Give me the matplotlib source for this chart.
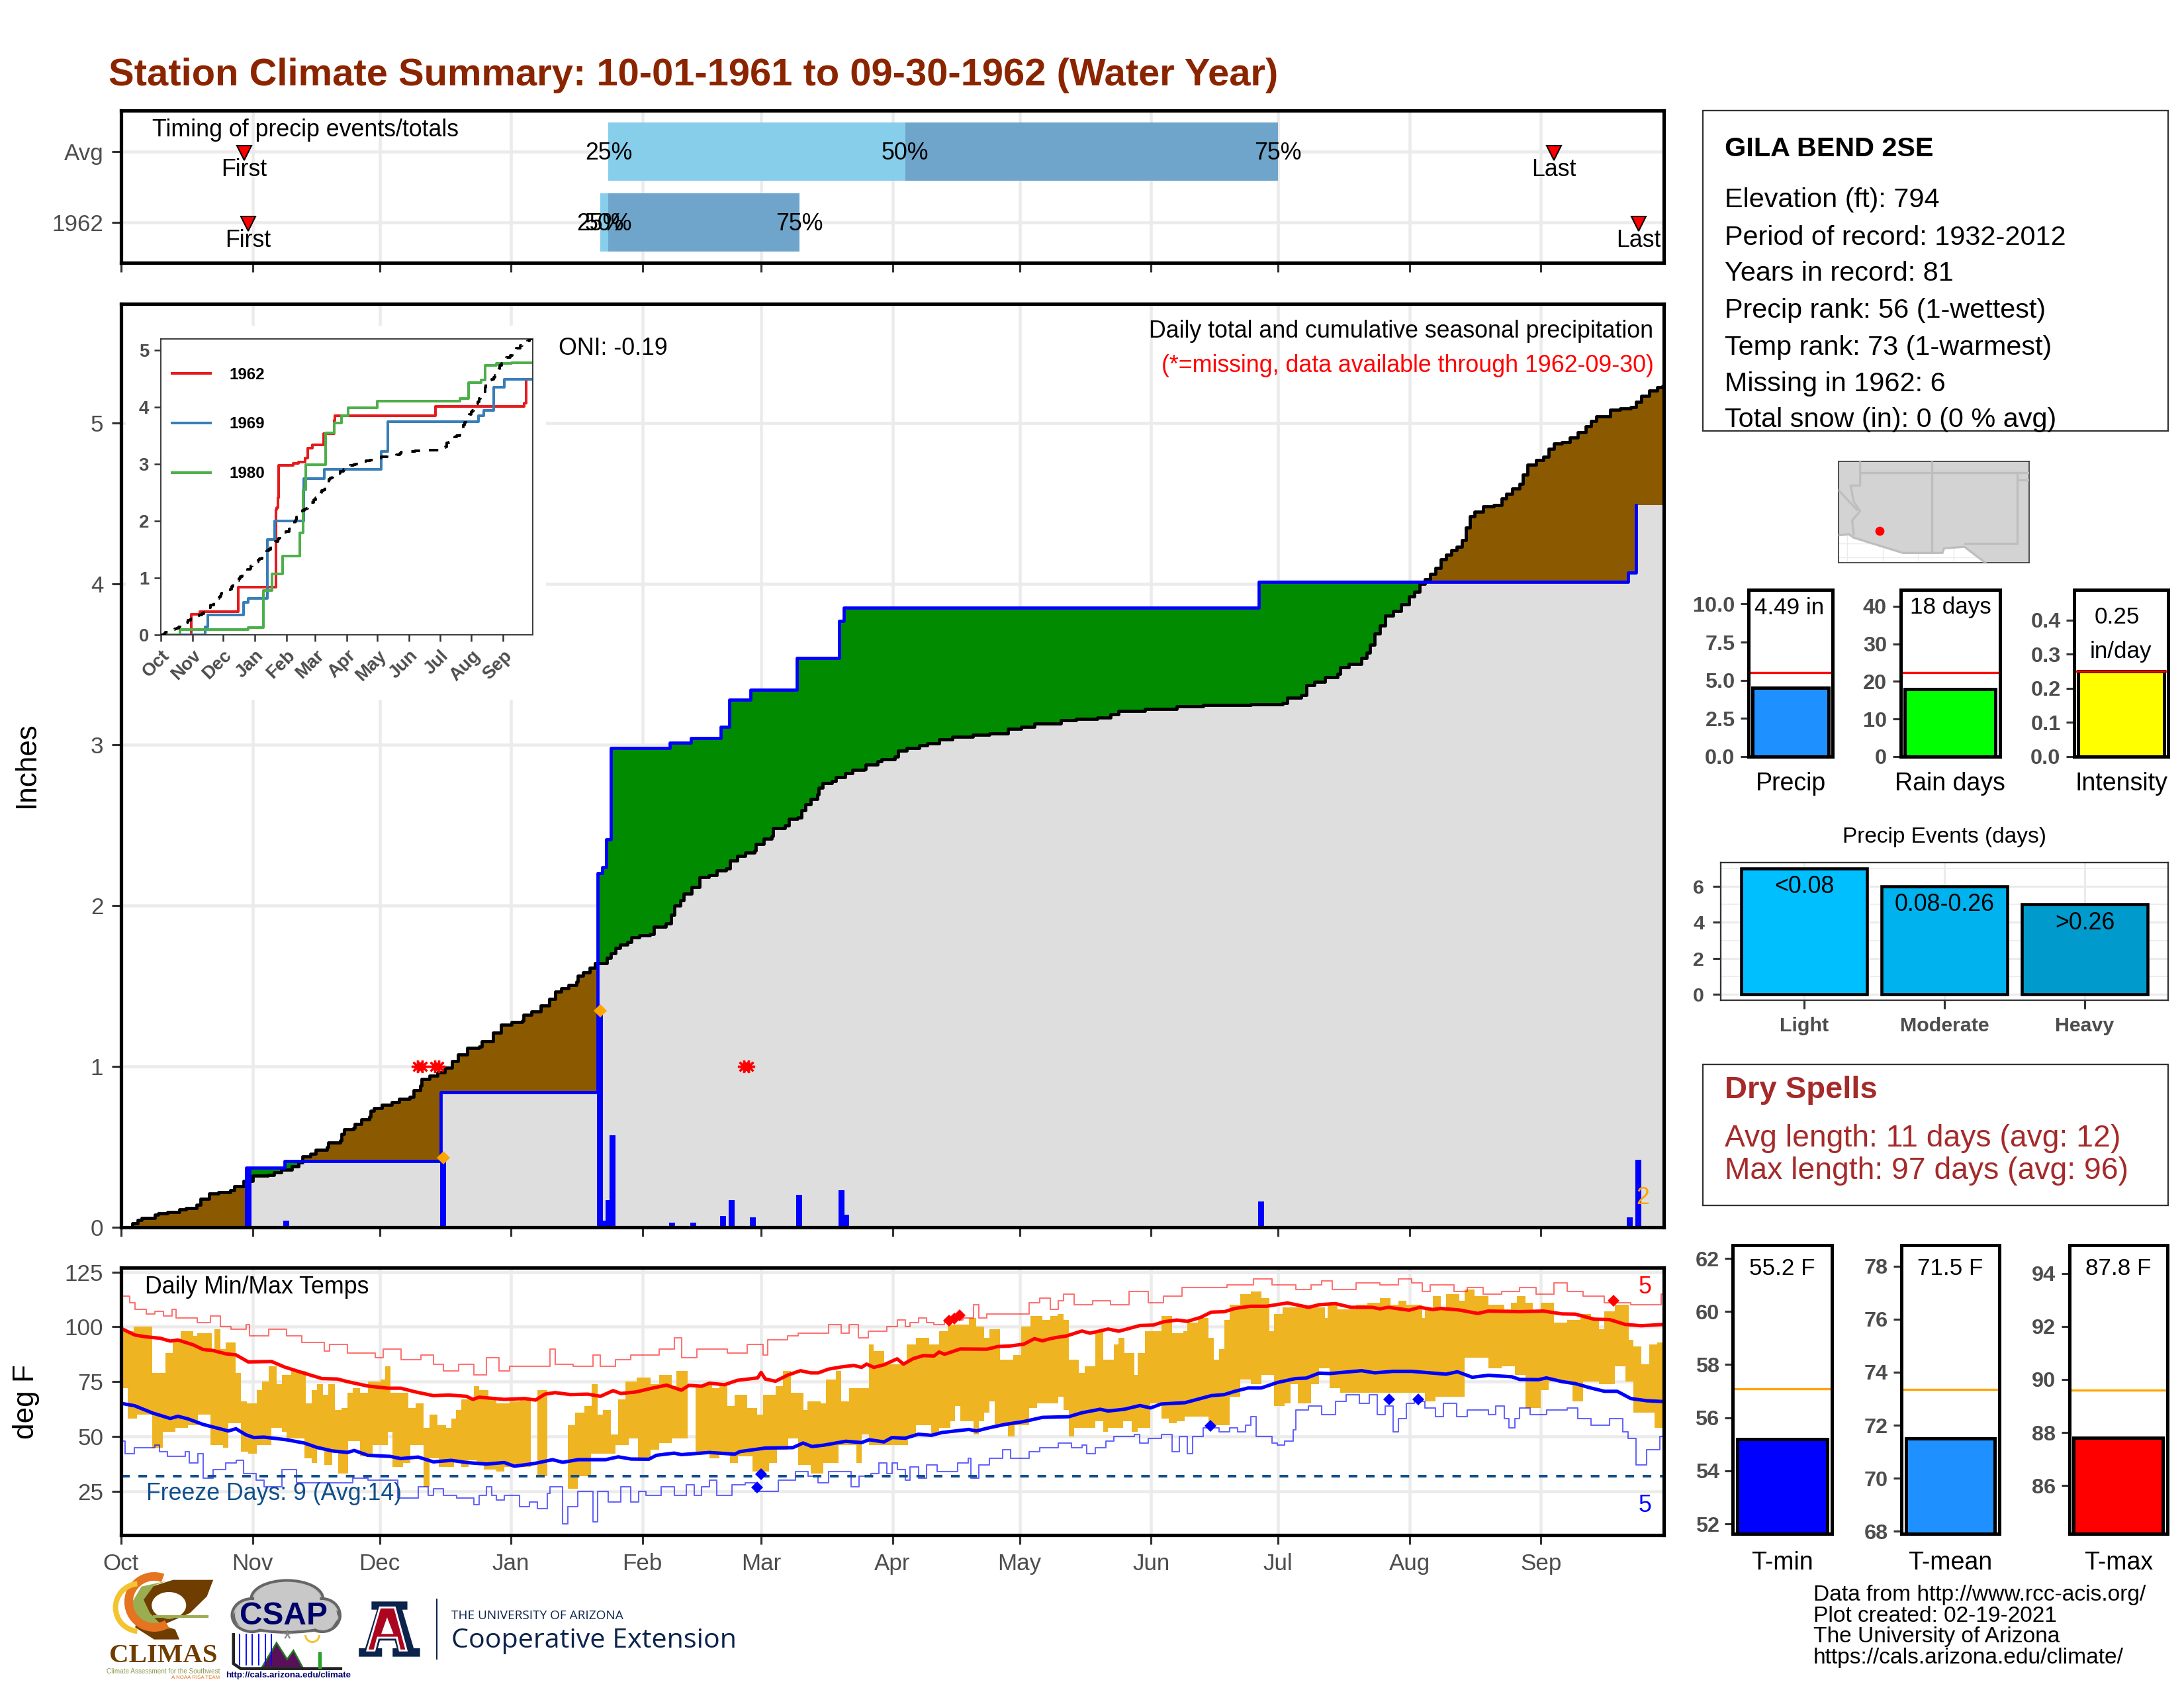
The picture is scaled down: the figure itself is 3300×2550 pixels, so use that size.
import numpy as np
import matplotlib
matplotlib.use('Agg')
import matplotlib.pyplot as plt
import matplotlib.patches as mp

plt.rcParams['font.family'] = 'Liberation Sans'

W, H = 3300.0, 2550.0
GRID = '#EBEBEB'
TICKC = '#4D4D4D'
NAVY = '#0C234B'

month_days = [0, 31, 61, 92, 123, 151, 182, 212, 243, 273, 304, 335]
month_labels = ['Oct', 'Nov', 'Dec', 'Jan', 'Feb', 'Mar', 'Apr', 'May', 'Jun', 'Jul', 'Aug', 'Sep']

# timing panel
avg_quart = [115, 185, 273]
yr_quart = [113, 115, 160]
first_days = [29, 30]
last_days = [338, 358]

# average cumulative precip, read as steps
avg_days = [0, 2.6, 3.9, 4.8, 7.9, 8.8, 11, 13.7, 15.3, 17.8, 18.7, 20.8, 23, 25.8, 26.7, 28.9, 31, 34.7, 36, 37.8,
            40.3, 41.8, 42.8, 44.6, 45.9, 48.6, 48.9, 51.7, 52, 52.6, 54.8, 55.1, 56.7, 58.5, 58.8, 59.7, 61.6, 63.8,
            65.6, 68.1, 69, 70.6, 70.9, 72.7, 74.6, 76.4, 78, 79.5, 81.7, 84.5, 85.1, 87.7, 87.8, 89.6, 89.7, 92.2,
            94.6, 95, 96.8, 99, 101, 102.5, 103.8, 105.6, 107.5, 107.8, 109, 110.6, 111.8, 114.6, 115.5, 116.7, 117.7,
            119.5, 120.4, 122.3, 124.8, 125.7, 128.5, 129.7, 130.6, 131.9, 132.8, 134.6, 136.5, 138.6, 140.5, 142.7,
            143.6, 145.4, 147.3, 149.5, 149.8, 151.6, 153.5, 153.8, 156.6, 157.5, 159.6, 160.6, 161.5, 162.7, 164.3,
            164.6, 165.5, 167.7, 168.6, 170.8, 172.6, 175.4, 175.7, 178.5, 179.4, 182.5, 183.4, 185.3, 188.4, 190.2,
            193, 196.2, 201, 204.9, 209.3, 212.4, 215.5, 221.7, 225.4, 230.4, 233.5, 235.4, 241.6, 249, 255.3, 266.5,
            274, 275.2, 278.4, 279.6, 281.5, 284, 287, 287.7, 289.6, 292.7, 293.9, 294.6, 295.8, 297, 298.3, 300.2,
            302, 303.9, 305.1, 306.4, 307.6, 308.9, 310.1, 311.4, 312.6, 313.8, 315.1, 316.3, 317.3, 318.2, 319.4,
            321.3, 323.8, 325.7, 326.9, 328.2, 330, 330.7, 331.9, 333.8, 335.6, 336.9, 338.1, 340, 341.9, 343.7, 345.6,
            346.8, 348.1, 351.4, 353.7, 356.2, 357.4, 358.7, 360.5, 362.4, 363.7]
avg_vals = [0, .023, .044, .057, .078, .088, .096, .11, .119, .14, .178, .208, .219, .229, .256, .29, .321, .325, .343, .359,
            .38, .403, .441, .455, .483, .496, .527, .538, .579, .609, .616, .64, .672, .688, .723, .741, .76, .778,
            .798, .812, .853, .88, .922, .942, .963, .99, 1.034, 1.073, 1.114, 1.125, 1.158, 1.171, 1.21, 1.226, 1.258, 1.274,
            1.285, 1.32, 1.34, 1.38, 1.42, 1.463, 1.486, 1.508, 1.525, 1.563, 1.586, 1.614, 1.641, 1.675, 1.703, 1.737, 1.758,
            1.772, 1.802, 1.813, 1.824, 1.868, 1.888, 1.943, 1.998, 2.032, 2.073, 2.115, 2.176, 2.19, 2.217, 2.231,
            2.279, 2.307, 2.327, 2.341, 2.382, 2.416, 2.43, 2.482, 2.499, 2.537, 2.547, 2.592, 2.629, 2.663, 2.691,
            2.732, 2.759, 2.773, 2.8, 2.821, 2.842, 2.849, 2.876, 2.897, 2.91, 2.924, 2.962, 2.979, 2.995, 3.009,
            3.034, 3.05, 3.06, 3.07, 3.10, 3.11, 3.13, 3.15, 3.16, 3.17, 3.19, 3.21, 3.22, 3.24, 3.245, 3.25,
            3.26, 3.29, 3.31, 3.37, 3.39, 3.42, 3.44, 3.48, 3.50, 3.54, 3.57, 3.62, 3.69, 3.74, 3.80, 3.83,
            3.87, 3.92, 3.95, 4.0, 4.03, 4.06, 4.10, 4.15, 4.18, 4.21, 4.23, 4.27, 4.35, 4.42, 4.45,
            4.48, 4.49, 4.53, 4.56, 4.59, 4.62, 4.68, 4.74, 4.77, 4.79, 4.84, 4.87, 4.88, 4.91, 4.94, 4.98,
            5.01, 5.04, 5.08, 5.09, 5.10, 5.13, 5.17, 5.20, 5.22, 5.23]

# daily precip 1962
rain_days = [30, 39, 76, 113, 114, 115, 116, 130, 135, 142, 144, 149, 160, 170, 171, 269, 356, 358]
rain_in = [.37, .04, .43, 1.36, .04, .17, .57, .03, .03, .07, .17, .06, .20, .23, .08, .16, .06, .42]

top_rain_days = [76, 113]
top_rain_vals = [.43, 1.345]
missing_days = [70, 71, 74, 75, 147, 148]

# inset comparison years
y1969_days = [0, 43.6, 46, 80.8, 85.7, 104.6, 111.5, 140.2, 160, 216, 222, 311, 316, 326, 336]
y1969_vals = [0, .15, .36, .58, .65, 1.68, 2.01, 2.75, 2.91, 3.23, 3.75, 3.85, 3.95, 4.35, 4.49]
y1980_days = [0, 18.8, 85.7, 100.6, 109, 119, 136, 139, 141.7, 161.5, 170, 177, 183, 212, 293, 301, 313.7, 317.6, 328.5, 343]
y1980_vals = [0, .10, .13, .78, 1.08, 1.39, 1.79, 2.55, 2.99, 3.55, 3.73, 3.85, 3.99, 4.11, 4.15, 4.43, 4.48, 4.73, 4.77, 4.78]

# daily max, read as steps (equal max and min = no data)
tmax_days = [0, 3, 7.4, 10.4, 12.2, 14, 17, 18, 21.4, 22, 23.5, 24.7, 27, 28.3, 29.7, 32, 33.3, 34.9, 36.7, 37.9,
             40.2, 43.6, 45, 46.2, 47.7, 48.9, 50.4, 52, 53.4, 54.6, 56.4, 58.2, 61.2, 62.3, 63.5, 67.7, 69.5,
             71.3, 72.7, 74.7, 76.7, 77.9, 79, 80.3, 83.3, 84.5, 86.6, 88.6, 91.6, 94, 96.6, 98.2, 100.6, 105.4,
             107.2, 109.3, 111, 112.5, 113.7, 115.5, 117.3, 119, 121.7, 125, 126.9, 129.9, 131, 133.7, 135.6,
             137, 139.4, 141.2, 143, 144.8, 147.8, 150, 151.4, 154.4, 156.1, 158, 161, 162, 165, 166.3, 168.7,
             169.9, 171.7, 176.5, 177.6, 180, 185.4, 187.5, 190.6, 193, 195, 200, 201.8, 203.7, 204.9, 207.4,
             210.5, 212.4, 214.5, 217.4, 219.2, 221, 222.3, 223.6, 226, 227.3, 229.8, 231.7, 234.2, 235.4, 236.7,
             239.1, 239.8, 241.6, 245.4, 247.9, 250.6, 251.6, 254.1, 256.6, 257.8, 259, 260.3, 261.6, 264, 266.5,
             269, 270.9, 272.1, 274, 277.7, 284, 284.6, 287, 291.4, 294, 297, 299.5, 301.4, 303.3, 307, 307.6,
             309.5, 311.4, 312.6, 315.7, 317, 319.4, 322.6, 326.3, 328, 329.4, 331.3, 333.1, 335, 338.1, 341.2,
             344.3, 346.8, 348.7, 350, 352.4, 355.8, 356.8, 358.7, 360.5, 362.4, 364]
tmax_vals = [98, 100, 79, 88, 94, 98, 96, 97, 89, 99, 90, 93, 79, 66, 65, 71, 75, 82, 74, 78,
             80, 65, 71, 74, 69, 74, 62, 63, 70, 72, 70, 75, 76, 82, 70, 63, 65,
             54, 60, 55, 54, 58, 62, 67, 73, 71, 68, 65, 66, 67, 50, 71, 50, 55,
             61, 64, 74, 60, 62, 51, 67, 75, 77, 74, 78, 73, 80, 55, 73,
             74, 72, 74, 64, 69, 63, 60, 69, 73, 80, 70, 62, 66, 65, 76, 80,
             66, 72, 92, 89, 83, 92, 95, 92, 98, 101, 104, 100, 95, 99, 85,
             87, 100, 105, 103, 105, 106, 103, 85, 79, 82, 98, 85, 92, 95, 88,
             78, 88, 98, 105, 97, 98, 102, 104, 95, 85, 90, 103, 110, 115, 116,
             113, 98, 106, 109, 109, 104, 110, 108, 110, 111, 113, 110, 112, 110, 104, 108,
             114, 109, 115, 112, 117, 114, 110, 108, 111, 114, 111, 107, 111, 102, 103,
             106, 104, 99, 107, 110, 94, 91, 83, 92, 93, 93]

# daily min, read as steps
tmin_days = [0, 1.5, 3.8, 7.4, 9.8, 12.8, 15.8, 18.1, 21.1, 24.1, 25.3, 28.3, 30, 32, 35.5, 37.9, 39.1, 43.2, 45,
             46.2, 48, 49.8, 51.2, 53.6, 56.4, 59.4, 63, 64.1, 66.5, 68.3, 71.3, 72.7, 74.9, 78.5, 80.3, 82, 83.9,
             85.6, 88.6, 90.4, 93.4, 96.6, 98.2, 100.6, 105.4, 107.8, 110.8, 113.7, 116.7, 119.7, 122, 125, 126.9,
             129.9, 133.7, 135.6, 138.8, 141.2, 143.6, 145.6, 149, 152.9, 154.7, 157.4, 159.8, 162.7, 165.7, 169.3,
             173.5, 174.7, 176.5, 180.6, 185.6, 187.5, 191.2, 193, 195.6, 196.8, 198, 201.2, 202.4, 203.7, 204.9,
             206.1, 208, 209.3, 210.8, 214.2, 216.1, 221.1, 222.3, 223.6, 224.8, 229.8, 231.7, 232.9, 236.4, 238.5,
             239.8, 242.9, 245.4, 247.2, 249.1, 251, 256.6, 261.6, 264, 266.5, 269, 272.1, 274.6, 275.9, 277.7,
             280.8, 282.7, 285.2, 287.7, 307.6, 310.1, 317, 322.6, 325.7, 328.8, 331.3, 335, 336.9, 342.5, 345,
             348.7, 352.4, 354.9, 356.8, 361.8, 364]
tmin_vals = [72, 58, 60, 45, 52, 54, 55, 60, 46, 45, 56, 43, 42, 46, 54, 52, 49, 40, 38,
             44, 37, 43, 33, 48, 41, 46, 52, 36, 38, 46, 27, 40, 36, 39, 36, 39, 38,
             35, 34, 36, 36, 50, 32, 50, 26, 32, 42, 42, 46, 49, 40, 44, 47,
             49, 55, 43, 40, 42, 38, 41, 34, 38, 44, 49, 37, 33, 38, 46,
             38, 51, 46, 46, 50, 55, 51, 54, 57, 64, 57, 51, 57, 61, 66,
             55, 56, 50, 55, 63, 65, 68, 62, 50, 54, 57, 52, 54, 57, 52,
             54, 65, 58, 56, 57, 59, 55, 68, 76, 74, 78, 64, 65, 74, 65,
             74, 81, 72, 70, 66, 68, 86, 81, 82, 78, 63, 71, 75, 66, 75,
             74, 82, 75, 61, 54, 54]

# normal max/min
nmax_days = [0, 3.2, 5.6, 9.2, 11.6, 13.4, 17, 19.3, 21.7, 24.7, 27.1, 30, 35.5, 38.5, 42.6, 47.4, 51, 53.4, 58.2,
             63, 66, 69.5, 73.7, 77.3, 81.5, 83, 84.5, 90.4, 95.2, 97.8, 100, 102.4, 106, 110.1, 113.1, 116.1, 117.9,
             121.5, 125, 128.7, 132.2, 134, 137, 138.8, 142.4, 145.4, 150.2, 151, 152, 154.4, 157.3, 160.3, 162.7,
             164.5, 166.9, 169.9, 172.9, 174.7, 175.9, 177.6, 180, 183.1, 184.6, 186.9, 189.3, 191.8, 193, 194.3,
             198, 204.3, 206.8, 209.9, 213, 215.5, 217.4, 218.6, 220.5, 223, 226.7, 228.6, 232.9, 235.4, 240.4,
             243.5, 246, 249.1, 251.6, 254.7, 257.2, 260.3, 262.8, 266.5, 270.3, 275.2, 280.2, 282.7, 286.5, 290.2,
             295.2, 297, 299, 303.9, 306.4, 309.5, 311.4, 315.7, 320.1, 322.6, 330, 335.6, 340, 343.1, 347.5, 351.2,
             354.9, 358.7, 364]
nmax_vals = [99.3, 96.3, 95.5, 94.8, 93.5, 94, 91.8, 89.7, 89.2, 87.7, 87.2, 84, 84.2, 81.7, 79.2, 76.4, 76.2, 75, 73,
             72, 72, 70.3, 68.6, 68.9, 68.3, 66.9, 67.9, 66.9, 67.3, 66.6, 69.3, 70, 69.1, 69.3, 68.3, 70.9, 69.6,
             70.3, 71.9, 73.4, 71.1, 73.3, 72.9, 74.3, 73.6, 75.6, 76.7, 79.2, 76.2, 75.2, 78, 80, 79,
             79, 80.7, 81.7, 82.4, 81.5, 83, 81.5, 82.7, 85.4, 83, 85.5, 86.9, 86.7, 88.5, 87.5,
             89.9, 89.8, 91, 91.3, 92.1, 94.6, 93.6, 94.3, 95.1, 95.8, 98.1, 97.1, 99, 98, 100.6,
             100.8, 102.3, 103.1, 102.5, 104.3, 106.7, 106.9, 108.4, 109.4, 109.4, 110.9, 108.9, 110.1, 110.6, 108.9,
             108.9, 108.2, 108.9, 107.6, 108.9, 107.9, 108.4, 107.7, 106.1, 107.2, 106.9, 107.2, 105.9, 105.8, 103.5, 103.3,
             101.1, 100.5, 101.1]
nmin_days = [0, 3.2, 7.4, 11.6, 13.4, 15.8, 19.3, 21.7, 25.3, 27.1, 29.5, 31.3, 33.7, 39, 43.2, 46.2, 49.8, 53.4, 55,
             58.2, 63.5, 66, 70.1, 73.7, 77.9, 81.5, 86.2, 90.4, 92.8, 97.6, 101.8, 104.2, 107.8, 114.3, 117.3, 120.3,
             124.5, 126.3, 130.5, 132.2, 138.8, 144.8, 146, 152, 158.5, 160.9, 163, 165.7, 171, 174.7, 176.5, 180,
             181.9, 185, 188.1, 191.2, 193.7, 200, 201.8, 204.9, 208.6, 213, 217.4, 223.6, 226.7, 231, 232.9, 236.7,
             240.4, 242.9, 245.4, 251, 257.2, 260.3, 262.8, 265.9, 269, 272.8, 277.1, 279.6, 282.7, 285.2, 292.7,
             295.8, 300.1, 304.5, 312.6, 315.3, 318.8, 322.6, 328.2, 330, 334.4, 336.3, 340, 343.1, 346.8, 350, 353,
             356.2, 359.9, 364]
nmin_vals = [65.1, 64, 60.7, 58.2, 59.2, 58, 55.5, 54.3, 52.5, 53.5, 50.7, 49.5, 49.7, 48.5, 47, 45, 43.4, 42.7, 43.6,
             41.4, 40.9, 39.9, 40.6, 38.4, 39.1, 38.1, 37.4, 38.1, 36.4, 37.7, 39.4, 38.2, 39.4, 39.4, 40.7, 39.7,
             39.6, 41.4, 42.4, 41.7, 42.7, 41.9, 43.1, 44.7, 44.9, 47, 45.4, 46, 47.8, 47.2, 48.5, 47.5,
             49.5, 49.2, 51, 50.5, 51.8, 53.2, 52.5, 54, 55.5, 56.8, 58.7, 59, 60.8, 62.4, 61.6, 62.4,
             64.1, 63, 64.8, 65.4, 68.6, 69.1, 70.6, 72.1, 72.1, 74.6, 76.4, 76.6, 78.9, 78.7, 80,
             79, 79.7, 79.7, 78.4, 79.5, 77, 77.9, 77.2, 76, 75.9, 76.7, 75, 74.1, 72.1, 70.6, 70.6,
             67.3, 66.3, 65.9]

# record high / low
rhi_days = [0, 2, 3.3, 6, 8, 10, 12, 13, 17.9, 21.1, 23.5, 25.9, 29.5, 30.3, 34.9, 39.1, 42.6, 48, 49.2, 53.4, 60,
            61.8, 66, 70.7, 73.7, 76.1, 79.7, 83.3, 86.2, 89.2, 91.6, 101.2, 102.4, 106.6, 111.3, 113.1, 116.7, 120.3,
            126.9, 130.5, 132.2, 135.8, 143, 147.8, 151.4, 152.6, 157.3, 159.7, 166.9, 169.9, 171.7, 174, 176.3, 180.6,
            183.1, 185, 186.2, 188.1, 190, 191.8, 194.3, 198.7, 201.2, 202.4, 204.3, 214.2, 216.7, 219.2, 221.1, 222.3,
            224.8, 229.2, 233.5, 237.9, 242.3, 246, 250.3, 260.9, 267.2, 271.5, 277.1, 280.8, 283.3, 285.8, 291.4, 297,
            301.4, 304.5, 307, 308.9, 314.5, 317.6, 321.3, 325.7, 330, 333.8, 338.1, 341.2, 345, 350, 356.2, 363.4, 364]
rhi_vals = [114, 111, 108, 106, 107, 105, 108, 104, 102, 105, 100, 99, 101, 96, 99, 96, 93, 89, 92, 88, 86,
            90, 85, 87, 83, 80, 83, 78, 86, 80, 82, 90, 83, 82, 87, 82, 85, 87,
            90, 95, 86, 90, 88, 92, 87, 94, 96, 97, 101, 97, 101, 95, 98, 100,
            103, 100, 102, 104, 102, 101, 103, 104, 110, 104, 106, 111, 113, 108, 112, 115,
            110, 112, 110, 116, 111, 114, 118, 119, 122, 119, 117, 119, 121, 117, 120, 119,
            122, 120, 116, 119, 116, 118, 115, 116, 118, 115, 120, 116, 114, 111, 110, 115, 115]
rlo_days = [0, 1, 3.2, 8, 9, 11, 13.4, 15.2, 16.1, 18.1, 19.3, 21.7, 24.7, 27.1, 28.9, 31.9, 33.7, 37.9, 41.4, 45, 54.6,
            58.2, 65.3, 70.1, 72.5, 73.7, 76.1, 79.1, 83.3, 84.5, 86.2, 87.4, 88.6, 90.4, 94, 96.4, 98.2, 100.6, 101.2,
            104.2, 105.4, 107.8, 111.3, 112.5, 114.9, 117.9, 120.3, 122.1, 123.9, 127.5, 130.5, 133.4, 135.2, 137, 138.8,
            140.6, 144.2, 147.2, 149.6, 153.2, 155, 159.1, 162.1, 164.5, 166.9, 172.3, 174.1, 176.9, 178.8, 180.6, 181.9,
            183.1, 185, 186.2, 188.1, 190, 192.5, 197.4, 199.9, 200.5, 202.4, 204.9, 208, 209.9, 214.2, 216.7, 221.1,
            224.2, 226.7, 227.9, 229.8, 232.3, 234.2, 239.1, 240.4, 242.3, 245.4, 247.9, 249.7, 251.6, 252.8, 255.3, 259,
            261.6, 263.4, 265.3, 266.5, 267.8, 271.5, 272.8, 274.6, 276.5, 277.1, 280.2, 283.3, 286.5, 289, 292.1, 294.5,
            296.4, 298.3, 300.1, 301.4, 303.3, 305.1, 307.6, 310.1, 312, 315.1, 317.6, 322.6, 324.4, 326.3, 327.5, 328.8,
            330, 332.5, 336.3, 341.2, 343.7, 346.8, 351.2, 354.3, 355.5, 357.4, 359.9, 363, 364]
rlo_vals = [48, 42, 45, 46, 43, 41, 41, 43, 38, 42, 31, 35, 38, 39, 33, 30, 27, 35, 29, 29, 31,
            30, 22, 27, 23, 26, 23, 22, 19, 23, 27, 23, 21, 23, 18, 20, 17, 24, 27,
            10, 18, 25, 11, 25, 20, 27, 20, 25, 23, 27, 23, 28, 23, 27, 30,
            23, 28, 29, 25, 25, 30, 34, 32, 29, 34, 27, 32, 33, 38, 33, 38,
            35, 30, 36, 31, 37, 34, 38, 40, 31, 37, 40, 44, 40, 43, 45, 47,
            45, 46, 42, 45, 48, 50, 51, 47, 49, 51, 43, 50, 42, 50, 54,
            52, 54, 52, 55, 59, 50, 47, 46, 48, 53, 62, 64, 60, 66, 69, 65,
            69, 60, 64, 52, 58, 65, 66, 63, 59, 65, 59, 62, 60, 64, 58, 54,
            58, 63, 60, 62, 63, 58, 55, 58, 52, 49, 37, 44, 50, 50]

hi_mark_days = [195.3, 196.6, 197.8, 352.2]
hi_mark_vals = [102.8, 103.8, 105.2, 111.9]
lo_mark_days = [150, 151, 257, 299.2, 306.1]
lo_mark_vals = [26.8, 32.8, 54.8, 66.9, 66.9]

# side panels
summary_lines = ['Elevation (ft): 794', 'Period of record: 1932-2012', 'Years in record: 81',
                 'Precip rank: 56 (1-wettest)', 'Temp rank: 73 (1-warmest)', 'Missing in 1962: 6',
                 'Total snow (in): 0 (0 % avg)']
event_names = ['Light', 'Moderate', 'Heavy']
event_vals = [7, 6, 5]
event_text = ['<0.08', '0.08-0.26', '>0.26']
credit_lines = ['Data from http://www.rcc-acis.org/', 'Plot created: 02-19-2021',
                'The University of Arizona', 'https://cals.arizona.edu/climate/']

# map outlines, lon/lat
land_lon = [-115.6, -114.86, -114.53, -111.07, -108.28, -108.17, -106.72, -106.38, -105.27, -102.18, -102.18, -115.6]
land_lat = [32.57, 32.64, 32.4, 31.32, 31.32, 31.65, 31.75, 31.48, 30.63, 30.63, 37.8, 37.8]
river_lon = [-114.08, -114.08, -114.75, -114.53, -114.08, -114.64, -114.53]
river_lat = [37.8, 36.09, 36.09, 34.94, 34.28, 33.62, 32.64]
station_lon, station_lat = -112.7, 32.9


def panel(l, t, r, b):
    return fig.add_axes([l / W, 1 - b / H, (r - l) / W, (b - t) / H])


def ft(x, y, s, **kw):
    # figure text placed in reference pixels
    kw.setdefault('va', 'center')
    kw.setdefault('zorder', 30)
    fig.text(x / W, 1 - (y + 4) / H, s, **kw)


def stair(days, vals):
    x = np.repeat(np.asarray(days, float), 2)[1:]
    y = np.repeat(np.asarray(vals, float), 2)[:-1]
    return x, y


def heavy_frame(ax, lw=1.25, col='black'):
    for s in ax.spines.values():
        s.set_linewidth(lw)
        s.set_color(col)
        s.set_zorder(20)


def month_axis(ax, labels=False):
    ax.set_xlim(0, 364)
    ax.set_xticks(month_days)
    ax.set_xticklabels(month_labels if labels else [])
    ax.grid(True, color=GRID, lw=1.1, zorder=0)
    ax.set_axisbelow(True)
    ax.tick_params(length=3.4, width=0.75, color='#333333', labelcolor=TICKC, labelsize=8.4, pad=3)


fig = plt.figure(figsize=(11, 8.5), dpi=300)
ft(164, 110, 'Station Climate Summary: 10-01-1961 to 09-30-1962 (Water Year)',
   fontsize=13.9, fontweight='bold', color='#8B2500')

# ---- timing of events
ax = panel(183, 167, 2514, 397)
month_axis(ax)
ax.set_ylim(-0.577, 1.582)
ax.set_yticks([0, 1])
ax.set_yticklabels(['1962', 'Avg'])
for row, q in [(1, avg_quart), (0, yr_quart)]:
    ax.barh(row, q[1] - q[0], left=q[0], height=0.826, color='#87CEEB', zorder=2)
    ax.barh(row, q[2] - q[1], left=q[1], height=0.826, color='#6FA5CB', zorder=2)
    for qv, name in zip(q, ['25%', '50%', '75%']):
        ax.text(qv, row - 0.025, name, ha='center', va='center', fontsize=8.6, zorder=5)
for row, f, l in zip([1, 0], first_days, last_days):
    ax.plot([f, l], [row - 0.02, row - 0.02], ls='none', marker='v', ms=5.4, mfc='red', mec='black', mew=0.5, zorder=5)
    ax.text(f, row - 0.26, 'First', ha='center', va='center', fontsize=8.6, zorder=5)
    ax.text(l, row - 0.26, 'Last', ha='center', va='center', fontsize=8.6, zorder=5)
ft(230, 193, 'Timing of precip events/totals', fontsize=8.6)
heavy_frame(ax)

# ---- cumulative precip
ax = panel(183, 459, 2514, 1854)
month_axis(ax)
ax.set_ylim(0, 5.74)
ax.set_yticks(range(6))
ax.set_yticklabels([str(i) for i in range(6)])

rain_cum = np.cumsum(rain_in)
obs_x, obs_y = stair(np.r_[0, np.array(rain_days) - 0.5, 364], np.r_[0, rain_cum, rain_cum[-1]])
avg_x, avg_y = stair(np.r_[avg_days, 364], np.r_[avg_vals, avg_vals[-1]])

ax.fill(np.r_[obs_x, 364, 0], np.r_[obs_y, 0, 0], color='#008B00', lw=0, zorder=2)
ax.fill(np.r_[avg_x, 364, 0], np.r_[avg_y, 0, 0], color='#8B5A00', lw=0, zorder=3)
clip_poly = ax.fill(np.r_[obs_x, 364, 0], np.r_[obs_y, 0, 0], facecolor='none', lw=0, zorder=1)[0]
grey = ax.fill(np.r_[avg_x, 364, 0], np.r_[avg_y, 0, 0], color='#DEDEDE', lw=0, zorder=4)[0]
grey.set_clip_path(clip_poly)
ax.plot(avg_x, avg_y, color='black', lw=1.15, zorder=5)
ax.bar(rain_days, rain_in, width=1.4, color='blue', lw=0, zorder=6)
ax.plot(obs_x[:-2], obs_y[:-2], color='blue', lw=1.15, zorder=7)
ax.plot(top_rain_days, top_rain_vals, ls='none', marker='D', ms=3.5, color='orange', mew=0, zorder=8)
ax.plot(missing_days, [1] * len(missing_days), ls='none', marker=(8, 2, 0), ms=4.6, color='red', mew=0.8, zorder=8)
ax.text(359, 0.185, '2', color='orange', fontsize=8.6, ha='center', va='center', zorder=9)
ft(2498.6, 497, 'Daily total and cumulative seasonal precipitation', fontsize=8.6, ha='right')
ft(2498.6, 549, '(*=missing, data available through 1962-09-30)', fontsize=8.6, color='red', ha='right')
ft(844, 523, 'ONI: -0.19', fontsize=8.6)
heavy_frame(ax)
ft(40, 1151, 'Inches', rotation=90, fontsize=10.6, ha='center')

# ---- inset
bg = panel(190, 492, 825, 1057)
bg.set_xticks([])
bg.set_yticks([])
for s in bg.spines.values():
    s.set_visible(False)

ins = panel(243, 512, 805, 959.5)
ins.set_xlim(0, 364)
ins.set_ylim(0, 5.2)
ins.set_xticks(month_days)
ins.set_xticklabels(month_labels, rotation=45, ha='right', rotation_mode='anchor', fontweight='bold', fontsize=6.6)
ins.set_yticks(range(6))
ins.set_yticklabels([str(i) for i in range(6)], fontweight='bold', fontsize=6.6)
ins.tick_params(length=2.3, width=0.6, color='#333333', labelcolor=TICKC, pad=2)
ins.plot(avg_x, avg_y, color='black', lw=0.95, ls=(0, (3.6, 3.6)), zorder=5)
ins.plot(obs_x, obs_y, color='#E41A1C', lw=0.95, label='1962')
x69, y69 = stair(np.r_[y1969_days, 364], np.r_[y1969_vals, y1969_vals[-1]])
x80, y80 = stair(np.r_[y1980_days, 364], np.r_[y1980_vals, y1980_vals[-1]])
ins.plot(x69, y69, color='#377EB8', lw=0.95, label='1969')
ins.plot(x80, y80, color='#4DAF4A', lw=0.95, label='1980')
leg = ins.legend(loc='upper left', bbox_to_anchor=(0.03, 0.905), frameon=False, borderpad=0, borderaxespad=0,
                 labelspacing=2.15, handlelength=2.4, handletextpad=1.2, prop={'weight': 'bold', 'size': 5.8})
for s in ins.spines.values():
    s.set_linewidth(0.45)
    s.set_color('#333333')

# ---- daily temps
ax = panel(183, 1915, 2514, 2319)
month_axis(ax, labels=True)
ax.set_ylim(5, 127)
ax.set_yticks([25, 50, 75, 100, 125])
ax.set_yticklabels(['25', '50', '75', '100', '125'])
tx, ty = stair(np.array(tmax_days), np.array(tmax_vals))
bx, by = stair(np.array(tmin_days), np.array(tmin_vals))
ax.fill(np.r_[tx, bx[::-1]], np.r_[ty, by[::-1]], color='#EEB422', lw=0, zorder=2)
hx, hy = stair(rhi_days, rhi_vals)
lx, ly = stair(rlo_days, rlo_vals)
ax.plot(hx, hy, color='red', alpha=0.55, lw=0.5, zorder=3)
ax.plot(lx, ly, color='blue', alpha=0.6, lw=0.5, zorder=3)
ax.plot(nmax_days, nmax_vals, color='red', lw=1.25, zorder=4)
ax.plot(nmin_days, nmin_vals, color='blue', lw=1.25, zorder=4)
ax.axhline(32, color='#104E8B', lw=0.95, ls=(0, (3.3, 3.3)), zorder=5)
ax.plot(hi_mark_days, hi_mark_vals, ls='none', marker='D', ms=2.9, color='red', mew=0, zorder=6)
ax.plot(lo_mark_days, lo_mark_vals, ls='none', marker='D', ms=2.9, color='blue', mew=0, zorder=6)
ft(219, 1940, 'Daily Min/Max Temps', fontsize=8.6)
ft(221, 2253, 'Freeze Days: 9 (Avg:14)', fontsize=8.6, color='#104E8B')
ft(2486, 1940, '5', fontsize=8.6, color='red', ha='center')
ft(2486, 2270, '5', fontsize=8.6, color='blue', ha='center')
heavy_frame(ax)
ft(40, 2113, 'deg F', rotation=90, fontsize=10.6, ha='center')

# ---- overlay for boxes
ov = fig.add_axes([0, 0, 1, 1], zorder=-1)
ov.set_xlim(0, W)
ov.set_ylim(H, 0)
ov.axis('off')
ov.add_patch(mp.Rectangle((2573, 166.5), 703, 484.5, fc='white', ec='#333333', lw=0.55))
ov.add_patch(mp.Rectangle((2573, 1607.7), 703, 212.8, fc='white', ec='#333333', lw=0.55))

ft(2606, 221, 'GILA BEND 2SE', fontsize=9.95, fontweight='bold')
for yy, line in zip([298, 354.6, 409, 465, 521, 576, 630], summary_lines):
    ft(2606, yy, line, fontsize=9.95)
ft(2606, 1643, 'Dry Spells', fontsize=11.3, fontweight='bold', color='#A52A2A')
ft(2606, 1716, 'Avg length: 11 days (avg: 12)', fontsize=11.1, color='#A52A2A')
ft(2606, 1764.6, 'Max length: 97 days (avg: 96)', fontsize=11.1, color='#A52A2A')
for yy, line in zip([2405.8, 2437, 2468, 2500], credit_lines):
    ft(2740, yy, line, fontsize=8.05)

# ---- locator map
mp_ax = panel(2778, 697, 3066, 850)
mp_ax.set_xlim(-115.6, -102.18)
mp_ax.set_ylim(30.63, 37.8)
mp_ax.set_xticks([-115, -112.5, -110, -107.5, -105, -102.5])
mp_ax.set_yticks([31, 32])
mp_ax.grid(True, color=GRID, lw=0.35)
mp_ax.set_axisbelow(True)
mp_ax.tick_params(length=0, labelbottom=False, labelleft=False)
mp_ax.fill(land_lon, land_lat, color='#D3D3D3', lw=0, zorder=2)
mp_ax.plot(land_lon[:9], land_lat[:9], color='#BEBEBE', lw=0.8, zorder=3)
mp_ax.plot(river_lon, river_lat, color='#BEBEBE', lw=0.8, zorder=3)
mp_ax.plot([-115.6, -114.31], [35.76, 34.38], color='#BEBEBE', lw=0.8, zorder=3)
mp_ax.plot([-114.08, -102.18], [36.98, 36.98], color='#BEBEBE', lw=0.8, zorder=3)
mp_ax.plot([-109.05, -109.05], [37.8, 31.32], color='#BEBEBE', lw=0.8, zorder=3)
mp_ax.plot([-103.03, -103.03, -106.72], [36.98, 31.98, 31.98], color='#BEBEBE', lw=0.8, zorder=3)
mp_ax.plot([-103.03, -102.18], [36.5, 36.5], color='#BEBEBE', lw=0.8, zorder=3)
mp_ax.plot(station_lon, station_lat, marker='o', ms=3.3, color='red', mew=0, zorder=4)
for s in mp_ax.spines.values():
    s.set_linewidth(0.4)
    s.set_color('#333333')


# ---- small bar panels
def small_bar(l, t, r, b, ylim, ticks, fmt, val, ref, col, refcol, xlabel, xlab_y):
    a = panel(l, t, r, b)
    a.set_xlim(-0.55, 0.55)
    a.set_ylim(*ylim)
    a.set_xticks([])
    a.set_yticks(ticks)
    a.set_yticklabels([fmt.format(v) for v in ticks], fontweight='bold', fontsize=7.8)
    a.tick_params(length=2.9, width=0.75, color='#333333', labelcolor=TICKC, pad=2)
    a.bar(0, val, width=1.0, color=col, edgecolor='black', lw=1.2, zorder=2)
    a.axhline(ref, color=refcol, lw=0.8, zorder=3)
    heavy_frame(a, 1.2)
    ft((l + r) / 2, xlab_y, xlabel, fontsize=9, ha='center')
    return a


small_bar(2642, 891, 2769, 1143, (0, 10.93), [0, 2.5, 5, 7.5, 10], '{:.1f}', 4.49, 5.53, '#1E90FF', 'red', 'Precip', 1180)
small_bar(2871.5, 891, 3022, 1143, (0, 44.4), [0, 10, 20, 30, 40], '{:d}', 18, 22.3, '#00FF00', 'red', 'Rain days', 1180)
small_bar(3134, 891, 3276, 1143, (0, 0.489), [0, .1, .2, .3, .4], '{:.1f}', 0.25, 0.25, '#FFFF00', 'red', 'Intensity', 1180)
ft(2704, 914, '4.49 in', fontsize=8.4, ha='center')
ft(2947, 914, '18 days', fontsize=8.4, ha='center')
ft(3199, 928, '0.25', fontsize=8.4, ha='center')
ft(3204, 980.5, 'in/day', fontsize=8.4, ha='center')

tick_52 = [52, 54, 56, 58, 60, 62]
tick_68 = [68, 70, 72, 74, 76, 78]
tick_86 = [86, 88, 90, 92, 94]
small_bar(2618, 1881, 2768, 2317.4, (51.62, 62.5), tick_52, '{:d}', 55.2, 57.09, 'blue', 'orange', 'T-min', 2356.7)
small_bar(2873, 1881, 3021, 2317.4, (67.9, 78.79), tick_68, '{:d}', 71.5, 73.35, '#1E90FF', 'orange', 'T-mean', 2356.7)
small_bar(3126.5, 1881, 3275, 2317.4, (84.17, 95.07), tick_86, '{:d}', 87.8, 89.6, 'red', 'orange', 'T-max', 2356.7)
ft(2693, 1912.5, '55.2 F', fontsize=8.4, ha='center')
ft(2947, 1912.5, '71.5 F', fontsize=8.4, ha='center')
ft(3201, 1912.5, '87.8 F', fontsize=8.4, ha='center')

# ---- precip events
ax = panel(2600, 1302.7, 3276, 1511)
ax.set_xlim(-0.594, 2.594)
ax.set_ylim(-0.32, 7.33)
ax.set_xticks(range(3))
ax.set_xticklabels(event_names, fontweight='bold', fontsize=7.3)
ax.set_yticks([0, 2, 4, 6])
ax.set_yticklabels(['0', '2', '4', '6'], fontweight='bold', fontsize=7.3)
ax.set_yticks([1, 3, 5, 7], minor=True)
ax.grid(True, which='major', color=GRID, lw=0.75)
ax.grid(True, which='minor', axis='y', color=GRID, lw=0.4)
ax.set_axisbelow(True)
ax.tick_params(which='major', length=3, width=0.75, color='#333333', labelcolor=TICKC, pad=3)
ax.tick_params(which='minor', length=0)
ax.bar(range(3), event_vals, width=0.9, color=['#00BFFF', '#00B2EE', '#009ACD'], edgecolor='black', lw=1.1, zorder=2)
for i, (v, t) in enumerate(zip(event_vals, event_text)):
    ax.text(i, v - 1.03, t, ha='center', va='center', fontsize=8.6, zorder=3)
for s in ax.spines.values():
    s.set_linewidth(0.55)
    s.set_color('#333333')
ft(2938, 1260.6, 'Precip Events (days)', fontsize=8, ha='center')


# ---- logos, drawn by hand in zoomed reference units
def lg(zx, zy):
    return (150 + zx / 1.568, 2330 + zy / 3.0)


def poly(pts, **kw):
    ov2.add_patch(mp.Polygon([lg(*p) for p in pts], **kw))


ov2 = fig.add_axes([0, 0, 1, 1], zorder=10)
ov2.set_xlim(0, W)
ov2.set_ylim(H, 0)
ov2.axis('off')
poly([(270, 170), (175, 170), (125, 200), (100, 270), (85, 385), (130, 440), (190, 440), (180, 395), (150, 375),
      (215, 320), (255, 245)], fc='#6F3D00', lw=0)
poly([(160, 175), (100, 200), (75, 280), (85, 370), (130, 395), (170, 390), (140, 360), (120, 320), (105, 260),
      (130, 195)], fc='#9AAD50', lw=0)
ov2.add_patch(mp.Wedge(lg(130, 270), 45, 60, 290, width=13, fc='#E57320', lw=0))
ov2.add_patch(mp.Ellipse(lg(165, 285), 52, 40, fc='white', lw=0))
ov2.add_patch(mp.Wedge(lg(95, 295), 40, 95, 265, width=8, fc='#F4C430', lw=0))
ov2.plot([lg(130, 335)[0], lg(255, 335)[0]], [lg(130, 335)[1]] * 2, color='#9AAD50', lw=1)
ov2.text(*lg(152, 515), 'CLIMAS', family='Liberation Serif', fontweight='bold', color='#6F3D00', fontsize=9.8,
         ha='center', va='center')
ov2.text(*lg(152, 585), 'Climate Assessment for the Southwest', color='#8A9A50', fontsize=2.4, ha='center', va='center')
ov2.text(*lg(228, 612), 'A NOAA RISA TEAM', color='#E57320', fontsize=1.9, ha='center', va='center')

cloud = [(445, 255, 170, 165), (362, 330, 95, 150), (528, 330, 85, 150), (445, 340, 250, 135)]
for cx, cy, w, h in cloud:
    ov2.add_patch(mp.Ellipse(lg(cx, cy), w / 1.568, h / 3.0, fc='#BDBDBD', ec='#666666', lw=1.0))
for cx, cy, w, h in cloud:
    ov2.add_patch(mp.Ellipse(lg(cx, cy), (w - 14) / 1.568, (h - 14) / 3.0, fc='#C8C8C8', lw=0))
ov2.text(*lg(437, 335), 'CSAP', fontweight='bold', color='#00006B', fontsize=11.5, ha='center', va='center')
for zx in [333, 348, 362, 378, 393, 408]:
    ov2.plot([lg(zx, 418)[0]] * 2, [lg(zx, 418)[1], lg(zx, 555)[1]], color='blue', lw=0.45)
ov2.plot(*zip(lg(318, 418), lg(318, 550), lg(335, 572), lg(572, 572)), color='#222222', lw=1.1)
poly([(385, 568), (420, 455), (445, 530), (460, 490), (482, 568)], fc='#5A0F5A', ec='#1F7A1F', lw=0.6)
ov2.plot([lg(522, 505)[0]] * 2, [lg(522, 505)[1], lg(522, 565)[1]], color='#2CA02C', lw=1.3)
ov2.text(*lg(445, 445), '*', color='#888888', fontsize=9, ha='center', va='center')
ov2.add_patch(mp.Wedge(lg(505, 420), 12, 0, 180, width=3, fc='#F4C430', lw=0))
ov2.text(*lg(448, 603), 'http://cals.arizona.edu/climate', fontweight='bold', color='#00006B', fontsize=3.2,
         ha='center', va='center')

poly([(645, 268), (730, 268), (730, 305), (718, 305), (745, 480), (760, 480), (760, 518), (695, 518), (695, 480),
      (705, 480), (700, 445), (665, 445), (660, 480), (670, 480), (670, 518), (615, 518), (615, 480), (630, 480),
      (658, 305), (645, 305)], fc=NAVY, lw=0)
poly([(665, 295), (700, 295), (728, 490), (712, 490), (705, 432), (660, 432), (652, 490), (635, 490)], fc='#AB0520',
     ec='white', lw=0.7)
poly([(682, 340), (697, 415), (668, 415)], fc='white', lw=0)
ov2.plot([660, 660], [2416, 2506], color=NAVY, lw=0.5)
ov2.text(682, 2441, 'THE UNIVERSITY OF ARIZONA', color=NAVY, fontsize=4.55, family='Open Sans', va='center')
ov2.text(682, 2479, 'Cooperative Extension', color=NAVY, fontsize=9.9, family='Open Sans', va='center')

fig.savefig('out.png', dpi=300)
